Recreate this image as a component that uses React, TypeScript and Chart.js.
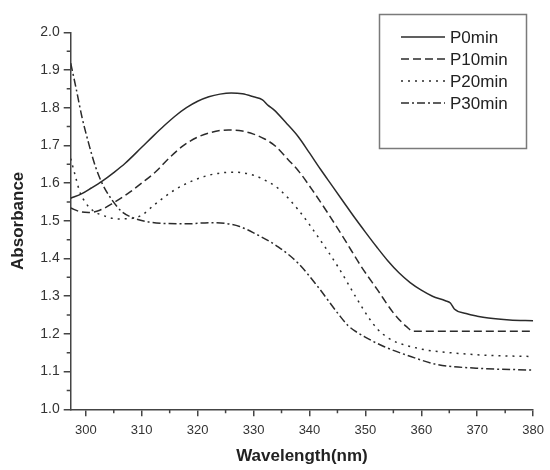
import React, { useEffect, useRef } from 'react';
import { Chart, registerables } from 'chart.js';

Chart.register(...registerables);

// ---- data ----
const seriesLabels = ['P0min', 'P10min', 'P20min', 'P30min'];

const p0Wavelength = [297.3, 299.3, 301, 303, 305, 307, 310, 312, 314, 316, 318, 320, 322, 324, 326, 328, 330, 331.6, 332.6, 333.6, 336, 338, 340, 342, 344, 346, 348, 350, 352, 354, 356, 358, 360, 362, 364.3, 365.2, 365.9, 368, 370, 372, 375.8, 380];
const p0Absorbance = [1.56, 1.572, 1.587, 1.606, 1.628, 1.652, 1.695, 1.724, 1.752, 1.778, 1.8, 1.817, 1.829, 1.836, 1.839, 1.837, 1.829, 1.821, 1.806, 1.795, 1.757, 1.723, 1.68, 1.636, 1.594, 1.552, 1.51, 1.47, 1.431, 1.394, 1.362, 1.336, 1.316, 1.3, 1.288, 1.282, 1.266, 1.254, 1.247, 1.242, 1.237, 1.235];

const p10Wavelength = [297.3, 299, 300.5, 302.5, 305, 307.5, 310, 312.5, 315, 317.5, 320, 322.5, 325.5, 328, 330, 332, 334, 336.2, 338, 340.4, 343.3, 346.3, 349.2, 352.2, 355.1, 357.3, 358.6, 365, 370, 375, 380];
const p10Absorbance = [1.534, 1.524, 1.522, 1.528, 1.548, 1.572, 1.6, 1.63, 1.668, 1.7, 1.722, 1.735, 1.741, 1.738, 1.73, 1.717, 1.697, 1.662, 1.633, 1.584, 1.52, 1.45, 1.38, 1.316, 1.254, 1.22, 1.207, 1.207, 1.207, 1.207, 1.207];

const p20Wavelength = [297.3, 298.2, 298.9, 300, 301.2, 302.9, 305.8, 308, 310, 312.3, 315.9, 319.4, 322.9, 326.5, 330, 332, 334.4, 338, 341.5, 345.1, 348.6, 350.5, 352.2, 354, 355.7, 358.5, 361, 366.9, 372, 380];
const p20Absorbance = [1.665, 1.615, 1.578, 1.547, 1.528, 1.515, 1.505, 1.506, 1.515, 1.543, 1.582, 1.608, 1.624, 1.629, 1.621, 1.608, 1.586, 1.529, 1.458, 1.378, 1.29, 1.245, 1.212, 1.19, 1.177, 1.165, 1.157, 1.148, 1.143, 1.14];

const p30Wavelength = [297.3, 298.2, 299.3, 300.5, 301.7, 302.9, 304.7, 306.4, 308.8, 311.2, 314, 318, 322.3, 325, 327.5, 330, 334.4, 338, 341.5, 345.1, 346.9, 349.8, 353.4, 358.1, 362.8, 369.8, 380];
const p30Absorbance = [1.918, 1.856, 1.776, 1.706, 1.645, 1.6, 1.555, 1.525, 1.506, 1.497, 1.493, 1.492, 1.495, 1.493, 1.485, 1.468, 1.431, 1.387, 1.325, 1.254, 1.222, 1.193, 1.166, 1.14, 1.119, 1.109, 1.104];

const xTickValues = [300, 310, 320, 330, 340, 350, 360, 370, 380];
const xMinorTickValues = [305, 315, 325, 335, 345, 355, 365, 375];
const yTickValues = [1.0, 1.1, 1.2, 1.3, 1.4, 1.5, 1.6, 1.7, 1.8, 1.9, 2.0];
const yMinorTickValues = [1.05, 1.15, 1.25, 1.35, 1.45, 1.55, 1.65, 1.75, 1.85, 1.95];

const X_MIN = 297.3;
const X_MAX = 380;
const Y_MIN = 1.0;
const Y_MAX = 2.0;

const FONT = '"Liberation Sans", Arial, Helvetica, sans-serif';
const AXIS_COLOR = '#444';
const LINE_COLOR = '#2b2b2b';

const toPoints = (xs: number[], ys: number[]) => xs.map((x, i) => ({ x, y: ys[i] }));

const minorTicksPlugin = {
  id: 'minorTicks',
  afterDraw(chart: any) {
    const { ctx, chartArea } = chart;
    const x = chart.scales.x;
    const y = chart.scales.y;
    ctx.save();
    ctx.strokeStyle = AXIS_COLOR;
    ctx.lineWidth = 1.5;
    ctx.beginPath();
    xMinorTickValues.forEach((v) => {
      const px = x.getPixelForValue(v);
      ctx.moveTo(px, chartArea.bottom);
      ctx.lineTo(px, chartArea.bottom + 4);
    });
    yMinorTickValues.forEach((v) => {
      const py = y.getPixelForValue(v);
      ctx.moveTo(chartArea.left, py);
      ctx.lineTo(chartArea.left - 4, py);
    });
    ctx.stroke();
    ctx.restore();
  },
};

const boxedLegendPlugin = {
  id: 'boxedLegend',
  afterDraw(chart: any) {
    const ctx = chart.ctx;
    ctx.save();
    ctx.strokeStyle = '#7a7a7a';
    ctx.lineWidth = 1.5;
    ctx.setLineDash([]);
    ctx.strokeRect(379.5, 14.5, 147, 134);
    chart.data.datasets.forEach((ds: any, i: number) => {
      const cy = 37 + i * 22;
      ctx.save();
      ctx.setLineDash(ds.borderDash || []);
      ctx.strokeStyle = ds.borderColor;
      ctx.lineWidth = ds.borderWidth;
      ctx.beginPath();
      ctx.moveTo(401, cy);
      ctx.lineTo(445, cy);
      ctx.stroke();
      ctx.restore();
      ctx.fillStyle = '#222';
      ctx.font = `17px ${FONT}`;
      ctx.textBaseline = 'middle';
      ctx.textAlign = 'left';
      ctx.fillText(ds.label, 450, cy + 1);
    });
    ctx.restore();
  },
};

export default function App() {
  const canvasRef = useRef<HTMLCanvasElement | null>(null);

  useEffect(() => {
    document.body.style.margin = '0';
    const canvas = canvasRef.current;
    if (!canvas) return;

    const mk = (label: string, xs: number[], ys: number[], dash: number[]) => ({
      label,
      data: toPoints(xs, ys),
      borderColor: LINE_COLOR,
      borderWidth: 1.5,
      borderDash: dash,
      pointRadius: 0,
      fill: false,
      cubicInterpolationMode: 'monotone' as const,
    });

    const chart = new Chart(canvas, {
      type: 'line',
      data: {
        datasets: [
          mk(seriesLabels[0], p0Wavelength, p0Absorbance, []),
          mk(seriesLabels[1], p10Wavelength, p10Absorbance, [8, 4]),
          mk(seriesLabels[2], p20Wavelength, p20Absorbance, [2, 5]),
          mk(seriesLabels[3], p30Wavelength, p30Absorbance, [8, 3, 2, 3]),
        ],
      },
      options: {
        responsive: false,
        animation: false,
        devicePixelRatio: 1,
        layout: { padding: { top: 32.3, right: 13.3, left: 0, bottom: 0 } },
        plugins: {
          legend: { display: false },
          tooltip: { enabled: false },
        },
        scales: {
          x: {
            type: 'linear',
            min: X_MIN,
            max: X_MAX,
            afterBuildTicks: (scale: any) => {
              scale.ticks = xTickValues.map((v) => ({ value: v }));
            },
            afterFit: (scale: any) => {
              scale.height = 60.7;
            },
            grid: {
              display: true,
              drawOnChartArea: false,
              drawTicks: true,
              tickLength: 7,
              color: AXIS_COLOR,
              lineWidth: 1.5,
            },
            border: { display: true, color: AXIS_COLOR, width: 1.5 },
            ticks: {
              autoSkip: false,
              maxRotation: 0,
              padding: 6,
              color: '#333',
              font: { family: FONT, size: 13 },
              callback: (v: any) => String(v),
            },
            title: {
              display: true,
              text: 'Wavelength(nm)',
              color: '#222',
              font: { family: FONT, size: 17, weight: 'bold' },
              padding: { top: 4, bottom: 3 },
            },
          },
          y: {
            type: 'linear',
            min: Y_MIN,
            max: Y_MAX,
            afterBuildTicks: (scale: any) => {
              scale.ticks = yTickValues.map((v) => ({ value: v }));
            },
            afterFit: (scale: any) => {
              scale.width = 70.7;
            },
            grid: {
              display: true,
              drawOnChartArea: false,
              drawTicks: true,
              tickLength: 7,
              color: AXIS_COLOR,
              lineWidth: 1.5,
            },
            border: { display: true, color: AXIS_COLOR, width: 1.5 },
            ticks: {
              autoSkip: false,
              padding: 4,
              color: '#333',
              font: { family: FONT, size: 14 },
              callback: (v: any) => Number(v).toFixed(1),
            },
            title: {
              display: true,
              text: 'Absorbance',
              color: '#222',
              font: { family: FONT, size: 17, weight: 'bold' },
              padding: { top: 8, bottom: 4 },
            },
          },
        },
      },
      plugins: [minorTicksPlugin, boxedLegendPlugin],
    });

    return () => {
      chart.destroy();
    };
  }, []);

  return (
    <div style={{ width: 550, height: 470, background: '#fff' }}>
      <canvas ref={canvasRef} width={550} height={470} style={{ display: 'block' }} />
    </div>
  );
}
